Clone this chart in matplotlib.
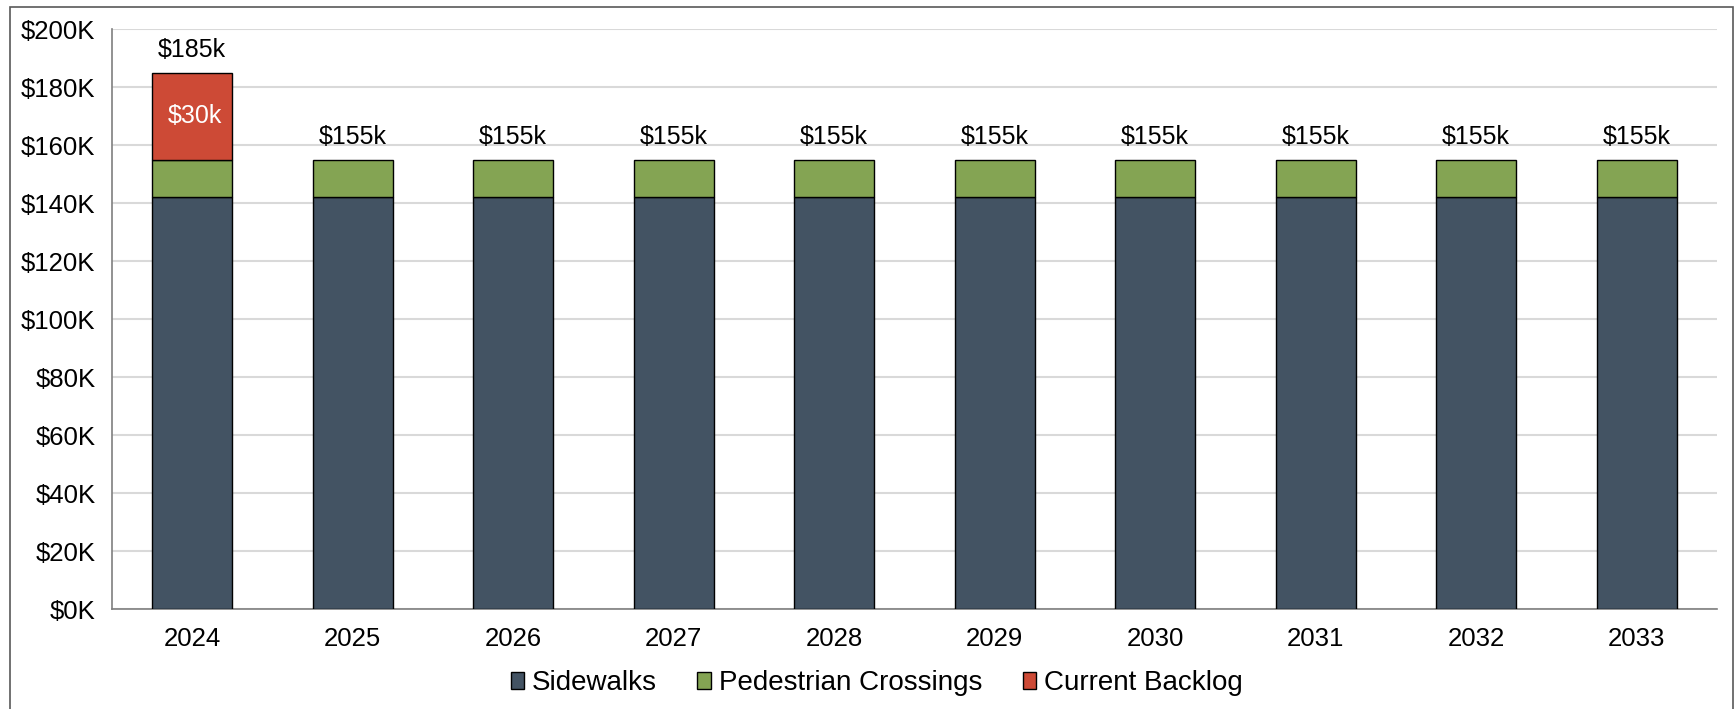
import matplotlib
matplotlib.use("Agg")
import matplotlib.pyplot as plt
from matplotlib.patches import Rectangle
from matplotlib.ticker import FuncFormatter
import numpy as np

years = ["2024", "2025", "2026", "2027", "2028", "2029", "2030", "2031", "2032", "2033"]
sidewalks = [142, 142, 142, 142, 142, 142, 142, 142, 142, 142]
crossings = [13, 13, 13, 13, 13, 13, 13, 13, 13, 13]
backlog = [30, 0, 0, 0, 0, 0, 0, 0, 0, 0]
y_ticks = [0, 20, 40, 60, 80, 100, 120, 140, 160, 180, 200]

colors = {"Sidewalks": "#435363", "Pedestrian Crossings": "#84A453", "Current Backlog": "#CD4A36"}

plt.rcParams["font.family"] = ["Liberation Sans", "DejaVu Sans"]

fig = plt.figure(figsize=(17.36, 7.09), dpi=100)
ax = fig.add_axes([0.0645, 0.141, 0.9245, 0.818])

x = np.arange(len(years))
w = 0.5
edge = dict(edgecolor="black", linewidth=1.0, zorder=3)
ax.bar(x, sidewalks, w, color=colors["Sidewalks"], label="Sidewalks", **edge)
ax.bar(x, crossings, w, bottom=sidewalks, color=colors["Pedestrian Crossings"],
       label="Pedestrian Crossings", **edge)
base2 = [s + c for s, c in zip(sidewalks, crossings)]
bl_idx = [i for i, v in enumerate(backlog) if v > 0]
ax.bar(x[bl_idx], [backlog[i] for i in bl_idx], w, bottom=[base2[i] for i in bl_idx],
       color=colors["Current Backlog"], label="Current Backlog", **edge)

totals = [b + v for b, v in zip(base2, backlog)]
for i, t in enumerate(totals):
    ax.text(x[i], t + 3.8, f"${t}k", ha="center", va="bottom", fontsize=18, color="black")
for i in bl_idx:
    ax.text(x[i] + 0.02, base2[i] + backlog[i] / 2, f"${backlog[i]}k", ha="center", va="center",
            fontsize=18, color="white", zorder=4)

ax.set_xlim(-0.5, len(years) - 0.5)
ax.set_ylim(0, 200)
ax.set_yticks(y_ticks)
ax.yaxis.set_major_formatter(FuncFormatter(lambda v, p: f"${int(v)}K"))
ax.set_xticks(x)
ax.set_xticklabels(years)
ax.tick_params(axis="both", length=0, labelsize=18.5, colors="black")
ax.tick_params(axis="y", pad=12)
ax.tick_params(axis="x", pad=13)
ax.grid(axis="y", color="#d9d9d9", linewidth=1.5, zorder=0)
ax.set_axisbelow(True)
for s in ("top", "right"):
    ax.spines[s].set_visible(False)
for s in ("left", "bottom"):
    ax.spines[s].set_color("#7f7f7f")
    ax.spines[s].set_linewidth(1.2)

ax.legend(loc="upper center", bbox_to_anchor=(0.4766, -0.062), ncol=3, frameon=False,
          fontsize=20, handlelength=0.48, handleheight=0.55, handletextpad=0.3,
          columnspacing=1.45)

fig.patches.append(Rectangle((0.0058, -0.05), 0.9925, 1.0408, transform=fig.transFigure,
                             fill=False, edgecolor="#595959", linewidth=1.2))

fig.savefig("out.png", dpi=100)
